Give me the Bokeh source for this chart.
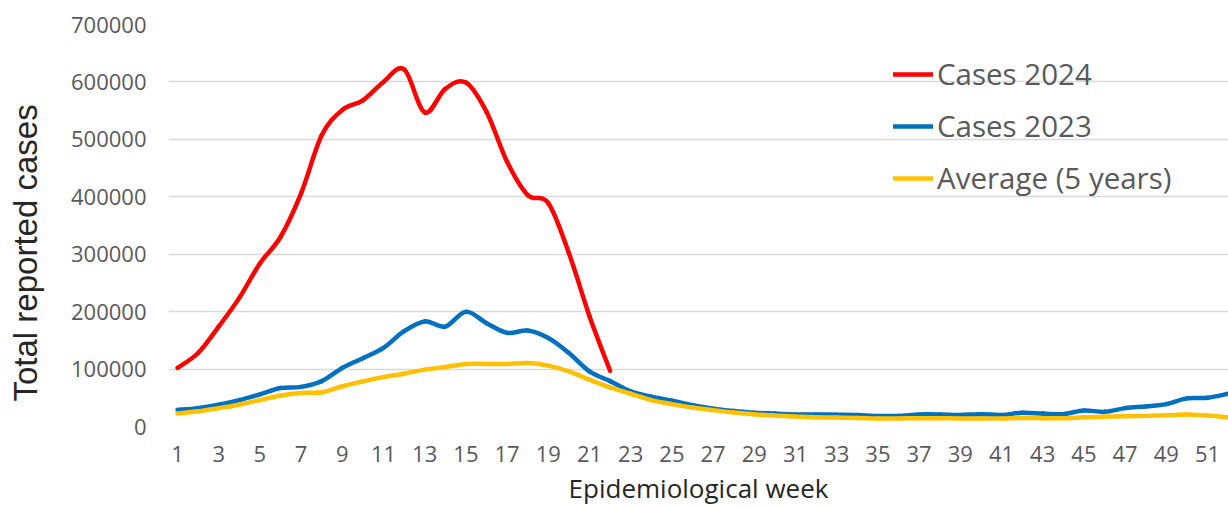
import math
from bokeh.plotting import figure
from bokeh.models import (Range1d, FixedTicker, Legend, LegendItem, LinearAxis,
                          Title, ColumnDataSource, NumeralTickFormatter)
from bokeh.embed import file_html
from bokeh.resources import INLINE

# ---------------- data ----------------
weeks = list(range(1, 53))
cases_2024 = [102000, 128000, 174000, 224000, 284000, 330000, 406000, 507000,
              551000, 568000, 600000, 622000, 547000, 588000, 599000, 548000,
              461000, 403000, 389000, 302000, 192000, 97000]
cases_2023 = [29000, 32000, 38000, 46000, 56000, 67000, 69000, 79000, 102000,
              119000, 137000, 166000, 183000, 174000, 200000, 180000, 163000,
              167000, 154000, 128000, 96000, 79000, 61000, 52000, 45000, 37000,
              31000, 27000, 24000, 22500, 21000, 21000, 20500, 20000, 18500,
              18500, 21000, 21000, 20000, 21500, 20000, 24000, 22500, 21500,
              28000, 25500, 32000, 35000, 39000, 49000, 50000, 57000]
average_5y = [22500, 26500, 32000, 38000, 46000, 54000, 58500, 59500, 70000,
              78500, 86000, 92000, 99000, 103500, 109000, 109000, 109000,
              110500, 106000, 96000, 81500, 68000, 57000, 46000, 39000, 33000,
              28500, 24500, 21500, 19000, 17500, 16000, 15500, 15000, 14000,
              14000, 14500, 14500, 14000, 14000, 14000, 15000, 14500, 14500,
              16000, 17000, 18000, 18500, 19500, 21000, 19000, 16000]
x_tick_weeks = [1, 3, 5, 7, 9, 11, 13, 15, 17, 19, 21, 23, 25, 27, 29, 31, 33,
                35, 37, 39, 41, 43, 45, 47, 49, 51]
y_ticks = [0, 100000, 200000, 300000, 400000, 500000, 600000, 700000]
series_names = ["Cases 2024", "Cases 2023", "Average (5 years)"]
series_colors = ["#FF0000", "#0070C0", "#FFC000"]

FONT = "Open Sans"
TICK_COLOR = "#595959"
TITLE_COLOR = "#262626"


def smooth_source(xs, ys):
    """Catmull-Rom style bezier segments (like Excel's smoothed line)."""
    n = len(ys)
    d = dict(x0=[], y0=[], x1=[], y1=[], cx0=[], cy0=[], cx1=[], cy1=[])
    for i in range(n - 1):
        xa, ya = (xs[i - 1], ys[i - 1]) if i > 0 else (xs[i], ys[i])
        xb, yb = xs[i], ys[i]
        xc, yc = xs[i + 1], ys[i + 1]
        xd, yd = (xs[i + 2], ys[i + 2]) if i + 2 < n else (xs[i + 1], ys[i + 1])
        d["x0"].append(xb); d["y0"].append(yb)
        d["x1"].append(xc); d["y1"].append(yc)
        d["cx0"].append(xb + (xc - xa) / 6); d["cy0"].append(yb + (yc - ya) / 6)
        d["cx1"].append(xc - (xd - xb) / 6); d["cy1"].append(yc - (yd - yb) / 6)
    return ColumnDataSource(d)


p = figure(width=1228, height=508,
           x_range=Range1d(0.563, 52.02), y_range=Range1d(0, 700000),
           output_backend="svg", toolbar_location=None,
           min_border_left=168, min_border_right=0,
           min_border_top=24, min_border_bottom=81)
p.outline_line_color = None
p.background_fill_color = "white"
p.border_fill_color = "white"

# axes
p.xaxis.ticker = FixedTicker(ticks=x_tick_weeks)
p.yaxis.ticker = FixedTicker(ticks=y_ticks)
p.yaxis.formatter = NumeralTickFormatter(format="0")
for ax in (p.xaxis[0], p.yaxis[0]):
    ax.axis_line_color = None
    ax.major_tick_line_color = None
    ax.minor_tick_line_color = None
    ax.major_tick_out = 0
    ax.major_tick_in = 0
    ax.minor_tick_out = 0
    ax.major_label_text_font = FONT
    ax.major_label_text_font_size = "22px"
    ax.major_label_text_color = TICK_COLOR
p.yaxis.major_label_standoff = 22
p.xaxis.major_label_standoff = 19

p.xaxis.axis_label = "Epidemiological week"
p.xaxis.axis_label_text_font = FONT
p.xaxis.axis_label_text_font_size = "26px"
p.xaxis.axis_label_text_font_style = "normal"
p.xaxis.axis_label_text_color = TITLE_COLOR
p.xaxis.axis_label_standoff = 5

# spacer axis between the tick labels and the y title
spacer = LinearAxis(ticker=FixedTicker(ticks=[]), axis_line_color=None,
                    major_tick_line_color=None, minor_tick_line_color=None,
                    major_tick_out=0, major_tick_in=0, minor_tick_out=0,
                    major_label_standoff=0, axis_label=" ",
                    axis_label_text_font_size="1px", axis_label_standoff=21)
p.add_layout(spacer, "left")
p.add_layout(Title(text="Total reported cases", align="left", offset=25,
                   vertical_align="bottom", standoff=0,
                   text_font="Liberation Sans", text_font_size="33px",
                   text_font_style="normal", text_color=TITLE_COLOR), "left")

p.xgrid.grid_line_color = None
p.ygrid.grid_line_color = "#d9d9d9"
p.ygrid.grid_line_width = 1.3

series = [(weeks[:len(cases_2024)], cases_2024),
          (weeks, cases_2023),
          (weeks, average_5y)]
renderers = []
for (xs, ys), color in zip(series, series_colors):
    r = p.bezier(x0="x0", y0="y0", x1="x1", y1="y1", cx0="cx0", cy0="cy0",
                 cx1="cx1", cy1="cy1", source=smooth_source(xs, ys),
                 line_color=color, line_width=4.5, line_cap="round",
                 line_join="round")
    renderers.append(r)

legend = Legend(items=[LegendItem(label=n, renderers=[r])
                       for n, r in zip(series_names, renderers)],
                location=(725, 228), orientation="vertical",
                glyph_width=40, glyph_height=40, label_height=40,
                label_width=10, spacing=11, padding=0, margin=0,
                label_standoff=4, border_line_color=None,
                background_fill_alpha=0,
                label_text_font=FONT, label_text_font_size="29.5px",
                label_text_color=TICK_COLOR)
p.add_layout(legend)

open("out.html", "w").write(file_html(p, INLINE))
